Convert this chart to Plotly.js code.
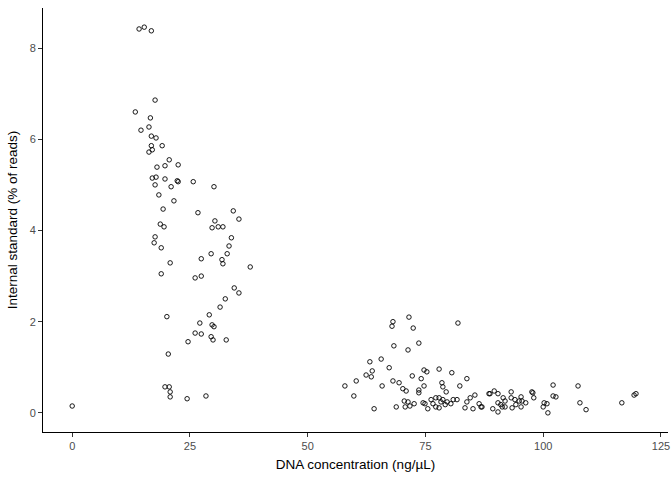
<!DOCTYPE html>
<html>
<head>
<meta charset="utf-8">
<script src="https://cdn.plot.ly/plotly-3.0.1.min.js"></script>
<style>body{margin:0;}#chart{width:672px;height:480px;}</style>
</head>
<body>
<div id="chart"></div>
<script>
// DNA concentration (ng/uL) vs internal standard (% of reads)
const dnaConc = [
  14.2, 15.3, 16.8, 17.6, 13.4, 16.6, 14.6, 16.3, 16.8, 17.8, 16.8, 19.1, 16.3, 17.0, 20.6,
  18.0, 22.5, 19.7, 17.8, 17.0, 19.7, 22.3, 22.5, 25.7, 30.1, 21.0, 17.6, 18.4, 21.6, 19.3,
  26.7, 34.2, 35.4, 30.3, 19.5, 18.7, 29.7, 31.0, 32.0, 33.8, 17.6, 17.4, 33.3, 18.9, 29.5,
  32.9, 27.4, 31.8, 32.0, 37.8, 20.8, 18.9, 27.4, 26.1, 34.4, 35.4, 32.5, 31.4, 20.1, 29.1,
  27.1, 29.7, 30.1, 26.1, 27.4, 29.5, 29.9, 32.7, 24.6, 20.4, 19.7, 20.6, 20.8, 20.8, 24.4,
  28.4, 0.0,
  71.5, 68.1, 67.9, 81.9, 72.4, 68.3, 73.6, 71.3, 65.6, 63.2, 67.3, 63.7, 62.4, 63.5, 74.7,
  75.3, 77.9, 80.6, 60.3, 57.9, 68.1, 69.4, 72.2, 74.1, 65.8, 59.8, 70.2, 70.9, 73.6, 74.7,
  73.6, 78.5, 78.7, 79.4, 83.8, 82.3, 64.1, 68.8, 70.7, 71.3, 70.5, 71.7, 72.6, 74.5, 74.9,
  75.5, 76.2, 76.6, 77.2, 77.9, 77.2, 77.9, 78.3, 78.7, 79.2, 79.6, 80.4, 80.9, 81.7, 83.4,
  83.8, 84.5, 85.1, 85.5, 86.4, 87.0, 88.5,
  102.1, 107.4, 119.3, 119.7, 97.6, 97.8, 98.0, 102.1, 102.7, 107.8, 109.1, 116.7, 100.2, 100.8, 100.0,
  101.0, 93.2, 91.5, 93.2, 95.3, 89.6, 90.4, 88.7, 91.9, 94.9, 95.5, 96.3, 94.0, 90.4, 91.0,
  95.3, 93.4, 90.4, 89.3, 91.3, 91.9, 94.2, 86.8
];
const internalStd = [
  8.42, 8.46, 8.38, 6.86, 6.60, 6.47, 6.20, 6.27, 6.07, 6.03, 5.86, 5.86, 5.72, 5.77, 5.55,
  5.39, 5.44, 5.42, 5.17, 5.15, 5.13, 5.09, 5.07, 5.07, 4.96, 4.96, 5.00, 4.78, 4.65, 4.47,
  4.39, 4.43, 4.25, 4.21, 4.08, 4.14, 4.06, 4.08, 4.08, 3.84, 3.86, 3.73, 3.66, 3.62, 3.49,
  3.49, 3.38, 3.36, 3.27, 3.20, 3.29, 3.05, 3.00, 2.96, 2.74, 2.63, 2.50, 2.32, 2.11, 2.15,
  1.97, 1.93, 1.89, 1.75, 1.73, 1.67, 1.60, 1.60, 1.56, 1.29, 0.57, 0.57, 0.46, 0.35, 0.31,
  0.37, 0.15,
  2.10, 2.00, 1.90, 1.97, 1.86, 1.47, 1.53, 1.38, 1.18, 1.12, 0.99, 0.92, 0.83, 0.79, 0.94,
  0.90, 0.96, 0.88, 0.70, 0.59, 0.70, 0.66, 0.81, 0.75, 0.59, 0.37, 0.53, 0.48, 0.50, 0.59,
  0.44, 0.66, 0.57, 0.46, 0.75, 0.59, 0.09, 0.13, 0.13, 0.24, 0.26, 0.15, 0.20, 0.22, 0.20,
  0.09, 0.29, 0.20, 0.33, 0.33, 0.13, 0.11, 0.24, 0.29, 0.18, 0.24, 0.20, 0.29, 0.29, 0.11,
  0.24, 0.33, 0.09, 0.39, 0.20, 0.13, 0.42,
  0.61, 0.59, 0.39, 0.42, 0.46, 0.44, 0.33, 0.37, 0.35, 0.22, 0.07, 0.22, 0.22, 0.20, 0.13,
  0.00, 0.46, 0.33, 0.33, 0.35, 0.48, 0.42, 0.42, 0.26, 0.26, 0.26, 0.22, 0.29, 0.22, 0.18,
  0.13, 0.11, 0.02, 0.09, 0.13, 0.13, 0.18, 0.13
];
const xTicks = [0, 25, 50, 75, 100, 125];
const yTicks = [0, 2, 4, 6, 8];

const trace = {
    x: dnaConc,
    y: internalStd,
    type: 'scatter',
    mode: 'markers',
    marker: { symbol: 'circle-open', size: 4.5, color: 'black', line: { width: 0.9, color: 'black' } },
    hoverinfo: 'x+y'
};

const axisStyle = {
    showgrid: false,
    zeroline: false,
    showline: true,
    linecolor: 'black',
    linewidth: 1,
    ticks: 'outside',
    ticklen: 4,
    tickcolor: '#333',
    tickfont: { family: 'Liberation Sans, Arial', size: 11, color: '#4d4d4d' }
};

const layout = {
    width: 672,
    height: 480,
    margin: { l: 43, r: 4, t: 8, b: 48 },
    paper_bgcolor: 'white',
    plot_bgcolor: 'white',
    showlegend: false,
    font: { family: 'Liberation Sans, Arial', color: 'black' },
    xaxis: Object.assign({}, axisStyle, {
        range: [-6.2, 126.5],
        tickvals: xTicks,
        title: { text: 'DNA concentration (ng/µL)', font: { size: 13.5 }, standoff: 8 }
    }),
    yaxis: Object.assign({}, axisStyle, {
        range: [-0.42, 8.88],
        tickvals: yTicks,
        title: { text: 'Internal standard (% of reads)', font: { size: 13.5 }, standoff: 8 }
    })
};

Plotly.newPlot('chart', [trace], layout, { displayModeBar: false });
</script>
</body>
</html>
